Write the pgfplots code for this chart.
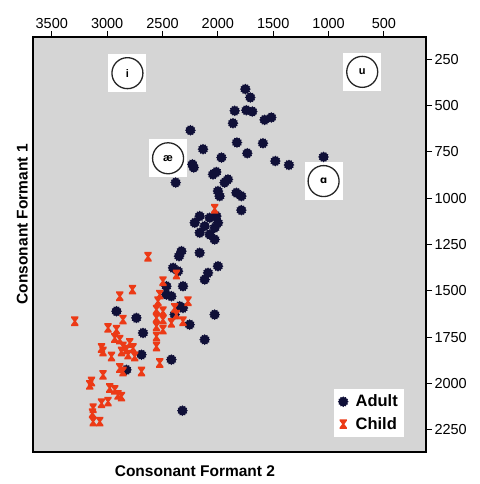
\documentclass[border=0pt]{standalone}
\usepackage{fontspec}
\setmainfont{Liberation Sans}
\newfontfamily\dejavu{DejaVu Sans}
\usepackage{pgfplots}
\pgfplotsset{compat=1.18}
\definecolor{bggray}{RGB}{213,213,213}
\definecolor{navy}{RGB}{16,16,56}
\definecolor{cred}{RGB}{236,58,22}

\pgfdeclareplotmark{gear}{%
  \pgfpathmoveto{\pgfpointpolar{0}{\pgfplotmarksize}}%
  \foreach \a in {0,30,...,330}{%
    \pgfmathsetmacro\b{\a+15}%
    \pgfpathlineto{\pgfpointpolar{\a}{\pgfplotmarksize}}%
    \pgfpathlineto{\pgfpointpolar{\b}{0.8\pgfplotmarksize}}%
  }%
  \pgfpathclose\pgfusepathqfill}

\pgfdeclareplotmark{hourglass}{%
  \pgfpathmoveto{\pgfqpoint{-0.75\pgfplotmarksize}{\pgfplotmarksize}}%
  \pgfpathlineto{\pgfqpoint{0.75\pgfplotmarksize}{\pgfplotmarksize}}%
  \pgfpathlineto{\pgfqpoint{0.75\pgfplotmarksize}{0.7\pgfplotmarksize}}%
  \pgfpathlineto{\pgfqpoint{0.22\pgfplotmarksize}{0pt}}%
  \pgfpathlineto{\pgfqpoint{0.75\pgfplotmarksize}{-0.7\pgfplotmarksize}}%
  \pgfpathlineto{\pgfqpoint{0.75\pgfplotmarksize}{-\pgfplotmarksize}}%
  \pgfpathlineto{\pgfqpoint{-0.75\pgfplotmarksize}{-\pgfplotmarksize}}%
  \pgfpathlineto{\pgfqpoint{-0.75\pgfplotmarksize}{-0.7\pgfplotmarksize}}%
  \pgfpathlineto{\pgfqpoint{-0.22\pgfplotmarksize}{0pt}}%
  \pgfpathlineto{\pgfqpoint{-0.75\pgfplotmarksize}{0.7\pgfplotmarksize}}%
  \pgfpathclose\pgfusepathqfill}

\begin{document}
\begin{tikzpicture}
\useasboundingbox (-33pt,-32pt) rectangle (446pt,452pt);
\fill[white] (-33pt,-32pt) rectangle (446pt,452pt);
\begin{axis}[
  scale only axis, width=393pt, height=415pt,
  x dir=reverse, y dir=reverse,
  xmin=120, xmax=3670, ymin=131, ymax=2369,
  axis background/.style={fill=bggray},
  xtick={500,1000,...,3500}, ytick={250,500,...,2250},
  xtick pos=top, xticklabel pos=top, ytick pos=right, yticklabel pos=right,
  tick align=outside, major tick length=6pt,
  tick style={line width=1.1pt, black},
  axis line style={line width=1.3pt},
  /pgf/number format/1000 sep={},
  /pgf/number format/assume math mode=true,
  ticklabel style={font=\fontsize{14.5}{16}\selectfont},
  xticklabel style={yshift=-1pt},
  yticklabel style={xshift=-1pt},
  xlabel={Consonant Formant 2}, ylabel={Consonant Formant 1},
  label style={font=\bfseries\fontsize{15.5}{17}\selectfont},
  xlabel style={at={(axis description cs:0.412,0)}, anchor=north, inner sep=0pt, yshift=-13pt},
  ylabel style={at={(axis description cs:0,0.549)}, anchor=south, inner sep=0pt, yshift=5pt},
  legend style={at={(0.944,0.036)}, anchor=south east, fill=white, draw=none,
    font=\bfseries\fontsize{16.5}{18}\selectfont, row sep=5pt, inner xsep=4pt, inner ysep=4pt,
    /tikz/every odd column/.append style={column sep=5pt}},
  legend cell align=left,
]
\node[fill=white, minimum size=38pt, inner sep=0pt] at (axis cs:2817,326) {};
\node[draw=black!85, line width=1.3pt, circle, minimum size=31pt, inner sep=0pt, font=\bfseries\fontsize{11}{12}\selectfont] at (axis cs:2817,326) {i};
\node[fill=white, minimum size=38pt, inner sep=0pt] at (axis cs:696,319) {};
\node[draw=black!85, line width=1.3pt, circle, minimum size=31pt, inner sep=0pt, font=\bfseries\fontsize{11}{12}\selectfont] at (axis cs:696,319) {u};
\node[fill=white, minimum size=38pt, inner sep=0pt] at (axis cs:2450,785) {};
\node[draw=black!85, line width=1.3pt, circle, minimum size=31pt, inner sep=0pt, font=\bfseries\fontsize{11}{12}\selectfont] at (axis cs:2450,785) {æ};
\node[fill=white, minimum size=38pt, inner sep=0pt] at (axis cs:1045,908) {};
\node[draw=black!85, line width=1.3pt, circle, minimum size=31pt, inner sep=0pt, font=\dejavu\bfseries\fontsize{10}{12}\selectfont] at (axis cs:1045,908) {ɑ};

\addplot[only marks, mark=gear, mark size=5.4pt, navy, mark options={fill=navy}] coordinates {
(1752,412)(1707,457)(1848,529)(1743,526)(1689,533)(1864,596)(1578,578)(1517,565)
(2248,634)(1828,700)(1593,704)(2134,736)(1734,758)(1968,781)(1045,778)(1481,800)
(1358,821)(2230,818)(2218,835)(2044,872)(2014,859)(1909,899)(1939,916)(2381,916)
(1833,971)(1788,989)(1999,962)(1984,989)(1788,1065)(2164,1097)(2074,1106)(2014,1097)
(2209,1133)(2119,1151)(2029,1160)(2164,1187)(2074,1196)(1999,1133)(2029,1223)
(2329,1286)(2351,1313)(2164,1295)(1999,1367)(2089,1403)(2119,1439)(2405,1376)
(2360,1394)(2315,1475)(2465,1520)(2420,1529)(2345,1583)(2315,1592)(2029,1628)
(2736,1646)(2916,1610)(2676,1727)(2119,1763)(2690,1844)(2420,1871)(2826,1926)
(2320,2146)(2255,1682)(2465,1475)(2390,1628)
};
\addlegendentry{Adult}
\addplot[only marks, mark=hourglass, mark size=4.8pt, cred, mark options={fill=cred}] coordinates {
(2029,1057)(2631,1316)(2375,1412)(2496,1448)(2772,1493)(2886,1529)(2525,1520)
(2541,1556)(2270,1556)(2555,1601)(2496,1610)(2555,1646)(2496,1655)(2555,1691)
(2555,1746)(2555,1800)(2525,1889)(2390,1592)(2375,1628)(2315,1664)(2420,1673)
(2496,1709)(2857,1655)(3292,1664)(2992,1700)(2916,1709)(2931,1754)(2886,1763)
(2857,1800)(2796,1781)(2826,1817)(2766,1808)(2811,1844)(2871,1827)(3051,1808)
(3037,1827)(2961,1854)(2751,1854)(2886,1916)(2857,1935)(2690,1935)(3037,1953)
(3142,1989)(3157,2007)(2977,2024)(2931,2034)(2902,2061)(2871,2070)(2992,2097)
(3051,2106)(3127,2133)(3133,2160)(3127,2205)(3067,2205)
};
\addlegendentry{Child}
\end{axis}
\end{tikzpicture}
\end{document}
